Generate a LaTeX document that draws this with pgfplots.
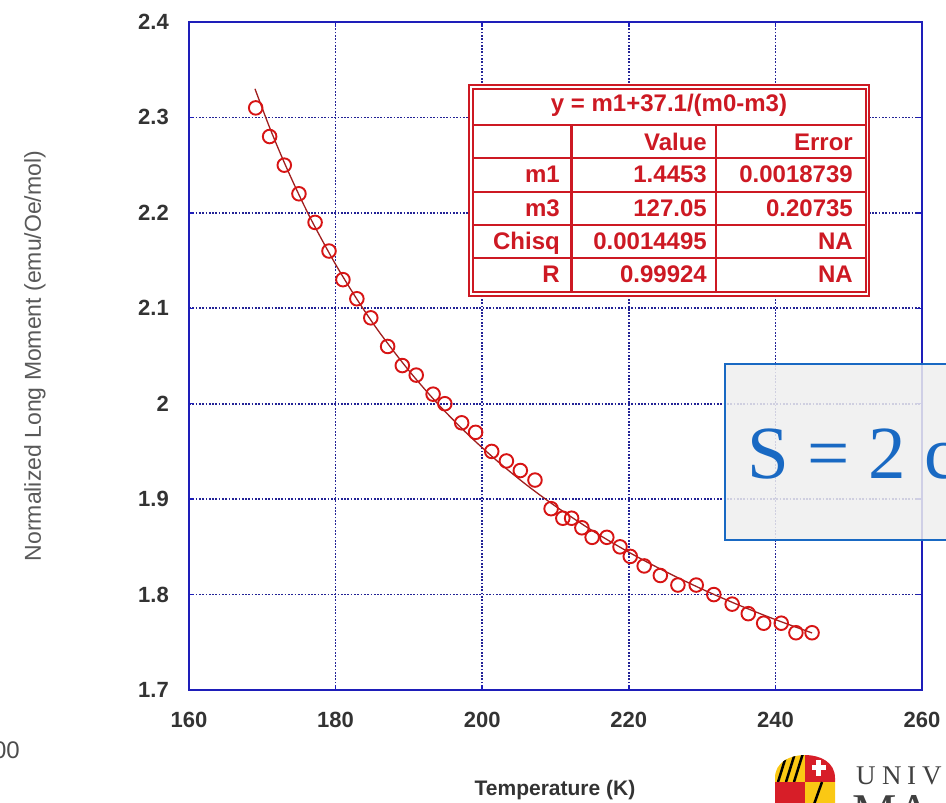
\documentclass[border=0pt]{standalone}
\usepackage{fontspec}
\setmainfont{Liberation Sans}
\newfontfamily\serif{Liberation Serif}
\usepackage{graphicx}
\usepackage{pgfplots}
\pgfplotsset{compat=1.18}
\definecolor{axblue}{RGB}{30,30,185}
\definecolor{gridblue}{RGB}{35,35,150}
\definecolor{datared}{RGB}{215,20,20}
\definecolor{fitred}{RGB}{160,30,30}
\definecolor{tabred}{RGB}{205,25,35}
\definecolor{sblue}{RGB}{25,105,195}
\definecolor{umdred}{RGB}{215,30,40}
\definecolor{umdgold}{RGB}{250,200,20}
\begin{document}
\begin{tikzpicture}[x=1pt,y=1pt]
\useasboundingbox (0,0) rectangle (946,-803);
\clip (0,0) rectangle (946,-803);
\begin{axis}[
  at={(189pt,-690pt)}, anchor=south west,
  scale only axis, width=733pt, height=668pt,
  xmin=160, xmax=260, ymin=1.7, ymax=2.4,
  xtick={160,180,200,220,240,260},
  ytick={1.7,1.8,1.9,2.0,2.1,2.2,2.3,2.4},
  yticklabels={1.7,1.8,1.9,2,2.1,2.2,2.3,2.4},
  /pgf/number format/assume math mode=true,
  xticklabel style={anchor=base, inner sep=0pt, yshift=-37pt, font=\fontsize{22}{22}\selectfont\bfseries, text=black!80},
  yticklabel style={anchor=east, inner sep=0pt, xshift=-20pt, font=\fontsize{22}{22}\selectfont\bfseries, text=black!80},
  axis line style={axblue, line width=2pt},
  major tick length=5pt,
  tick style={axblue, line width=1.5pt},
  grid=major,
  major grid style={gridblue, dash pattern=on 1.7pt off 1.6pt, line width=1.7pt},
  clip=false,
]
\addplot[fitred, line width=1.3pt, smooth] coordinates {
(169,2.330) (171,2.2894) (173,2.2527) (175,2.2190) (177,2.1880) (180,2.1460)
(183,2.1084) (186,2.0746) (190,2.0347) (194,1.9994) (198,1.9682) (202,1.9403)
(206,1.9152) (210,1.8926) (215,1.8671) (220,1.8444) (225,1.8241) (230,1.8057)
(235,1.7890) (240,1.7738) (245,1.7598)
};
\addplot[only marks, mark=o, mark size=6.8pt, datared, mark options={line width=1.9pt}] coordinates {
(169.1,2.31) (171.0,2.28) (173.0,2.25) (175.0,2.22) (177.2,2.19) (179.1,2.16)
(181.0,2.13) (182.9,2.11) (184.8,2.09) (187.1,2.06) (189.1,2.04) (191.0,2.03)
(193.3,2.01) (194.9,2.00) (197.2,1.98) (199.1,1.97) (201.3,1.95) (203.3,1.94)
(205.2,1.93) (207.2,1.92) (209.4,1.89) (211.0,1.88) (212.2,1.88) (213.6,1.87)
(215.0,1.86) (217.0,1.86) (218.8,1.85) (220.2,1.84) (222.1,1.83) (224.3,1.82)
(226.7,1.81) (229.2,1.81) (231.6,1.80) (234.1,1.79) (236.3,1.78) (238.4,1.77)
(240.8,1.77) (242.8,1.76) (245.0,1.76)
};
\end{axis}
% axis labels
\node[rotate=90, inner sep=0pt, text=black!65, font=\fontsize{23}{23}\selectfont] at (35,-356) {Normalized Long Moment (emu/Oe/mol)};
\node[inner sep=0pt, text=black!80, font=\fontsize{21}{21}\selectfont\bfseries] at (555,-790) {Temperature (K)};
% fit result table
\fill[white] (469,-85) rectangle (869,-296);
\draw[tabred, line width=1.5pt] (469,-85) rectangle (869,-296);
\draw[tabred, line width=1.5pt] (473,-89) rectangle (866,-292);
\foreach \yy in {125,158,192,225,258} {\draw[tabred, line width=1.8pt] (473,-\yy) -- (866,-\yy);}
\draw[tabred, line width=3pt] (571,-125) -- (571,-292);
\draw[tabred, line width=1.8pt] (716,-125) -- (716,-292);
\begin{scope}[every node/.style={inner sep=0pt, text=tabred, font=\fontsize{24}{24}\selectfont\bfseries}]
\node[anchor=base] at (669,-111) {y = m1+37.1/(m0-m3)};
\node[anchor=base east] at (707,-150) {Value};
\node[anchor=base east] at (853,-150) {Error};
\node[anchor=base east] at (560,-182) {m1};
\node[anchor=base east] at (707,-182) {1.4453};
\node[anchor=base east] at (853,-182) {0.0018739};
\node[anchor=base east] at (560,-216) {m3};
\node[anchor=base east] at (707,-216) {127.05};
\node[anchor=base east] at (853,-216) {0.20735};
\node[anchor=base east] at (560,-249) {Chisq};
\node[anchor=base east] at (707,-249) {0.0014495};
\node[anchor=base east] at (853,-249) {NA};
\node[anchor=base east] at (560,-282) {R};
\node[anchor=base east] at (707,-282) {0.99924};
\node[anchor=base east] at (853,-282) {NA};
\end{scope}
% overlay box
\fill[gray!13, fill opacity=0.85] (725,-364) rectangle (970,-540);
\draw[sblue, line width=2pt] (725,-364) rectangle (970,-540);
\node[anchor=base west, inner sep=0pt, text=sblue, font=\serif\fontsize{75}{75}\selectfont] at (747,-478) {S = 2 c};
% stray slide text
\node[anchor=base east, inner sep=0pt, text=black!70, font=\fontsize{24}{24}\selectfont] at (20,-758) {200};
% logo
\begin{scope}
\clip (775,-803) -- (775,-778) .. controls (775,-762) and (790,-755) .. (805,-755) .. controls (820,-755) and (835,-762) .. (835,-778) -- (835,-803) -- cycle;
\fill[umdgold] (770,-750) rectangle (805,-782);
\foreach \k in {0,8,16,24} {\draw[black, line width=2.5pt] (770+\k,-782) -- (780+\k,-750);}
\fill[umdred] (805,-750) rectangle (840,-782);
\fill[white] (812,-765) rectangle (826,-770);
\fill[white] (816,-760) rectangle (821,-776);
\fill[umdred] (770,-782) rectangle (805,-810);
\fill[umdgold] (805,-782) rectangle (840,-810);
\draw[black, line width=2.5pt] (812,-810) -- (822,-782);
\end{scope}
\begin{scope}[every node/.style={inner sep=0pt, anchor=base west, text=black!75, font=\serif\fontsize{27}{27}\selectfont}]
\node at (856,-784) {U};
\node at (882,-784) {N};
\node at (907,-784) {I};
\node at (922,-784) {V};
\end{scope}
\node[inner sep=0pt, anchor=base west, text=black!75, font=\serif\fontsize{50}{50}\selectfont] at (852,-828) {MA};
\end{tikzpicture}
\end{document}
